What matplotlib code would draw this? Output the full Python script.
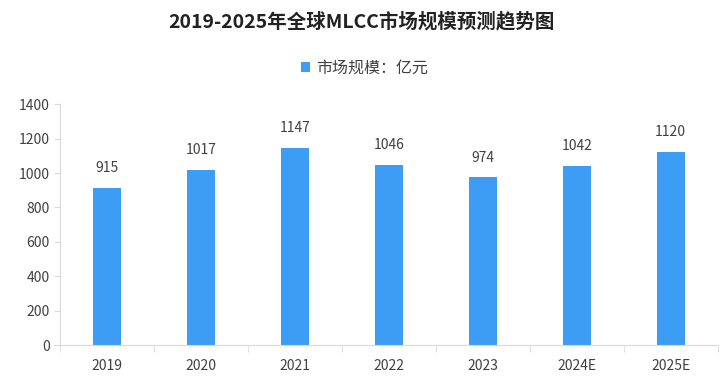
import matplotlib.pyplot as plt
import numpy as np

plt.rcParams['font.family'] = ['Noto Sans CJK SC', 'DejaVu Sans']

years = ['2019', '2020', '2021', '2022', '2023', '2024E', '2025E']
market = [915, 1017, 1147, 1046, 974, 1042, 1120]

fig = plt.figure(figsize=(7.22, 3.83), dpi=100)
ax = fig.add_axes([0.083, 0.099, 0.911, 0.629])

x = np.arange(len(years))
bars = ax.bar(x, market, width=0.3, color='#3d9cf3', label='市场规模：亿元')

for xi, v in zip(x, market):
    ax.text(xi, v + 75, str(v), ha='center', va='bottom', fontsize=10, color='#404040')

ax.set_xlim(-0.5, len(years) - 0.5)
ax.set_ylim(0, 1400)
ax.set_yticks(range(0, 1401, 200))
ax.set_xticks(x)
ax.set_xticklabels(years)
ax.set_xticks(np.arange(-0.5, len(years), 1), minor=True)
ax.tick_params(axis='x', which='major', length=0, pad=10, labelsize=10, labelcolor='#404040')
ax.tick_params(axis='x', which='minor', length=5, color='#d9d9d9')
ax.tick_params(axis='y', length=4, color='#d9d9d9', labelsize=10, labelcolor='#404040')

for s in ['top', 'right']:
    ax.spines[s].set_visible(False)
for s in ['left', 'bottom']:
    ax.spines[s].set_color('#d9d9d9')

fig.text(0.5, 0.945, '2019-2025年全球MLCC市场规模预测趋势图', ha='center', va='center',
         fontsize=14, fontweight='bold', color='#222222')
ax.legend(loc='center', bbox_to_anchor=(0.505, 0.823), bbox_transform=fig.transFigure,
          frameon=False, fontsize=11.5, handlelength=0.6, handleheight=0.6, handletextpad=0.4,
          labelcolor='#404040')

fig.savefig('out.png')
